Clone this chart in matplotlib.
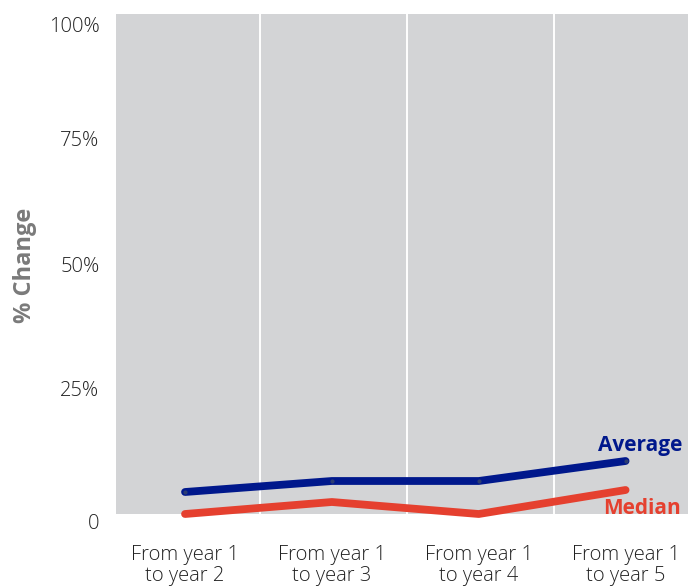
import matplotlib
matplotlib.use("Agg")
import matplotlib.pyplot as plt
import matplotlib.transforms as mtransforms

categories = ["From year 1\nto year 2", "From year 1\nto year 3",
              "From year 1\nto year 4", "From year 1\nto year 5"]
average = [4.4, 6.6, 6.6, 10.6]
median = [0.0, 2.4, 0.0, 4.8]
ytick_vals = [0, 25, 50, 75, 100]
ytick_labels = ["0", "25%", "50%", "75%", "100%"]

plt.rcParams['font.family'] = ['Open Sans', 'DejaVu Sans']

W, H = 688, 587
fig = plt.figure(figsize=(W / 100, H / 100), dpi=100)
left, right, top, bottom = 116, 699, 14, 514
ax = fig.add_axes([left / W, (H - bottom) / H, (right - left) / W, (bottom - top) / H])
ax.set_facecolor('#d3d4d6')
for s in ax.spines.values():
    s.set_visible(False)

x = list(range(len(categories)))
ax.set_xlim(-0.47, 3.5)
ax.set_ylim(0, 100)

ax.set_yticks(ytick_vals)
ax.set_yticks([25, 50, 75], minor=True)
ax.set_yticklabels(ytick_labels)
ax.set_xticks(x)
ax.set_xticklabels(categories)
ax.set_xticks([0.51, 1.51, 2.51], minor=True)
ax.grid(False)
ax.grid(True, which='minor', color='white', linewidth=1.4)
ax.tick_params(which='both', length=0)
ax.tick_params(axis='y', pad=12, labelsize=14.5, labelcolor='#222222')
ax.tick_params(axis='x', pad=22, labelsize=14.5, labelcolor='#222222')
for lab in ax.get_xticklabels():
    lab.set_fontweight('light')
    lab.set_linespacing(1.1)
ylabs = ax.get_yticklabels()
for lab in ylabs:
    lab.set_fontweight('light')
ylabs[0].set_va('top')
ylabs[-1].set_va('top')
ylabs[-1].set_transform(ylabs[-1].get_transform() +
                        mtransforms.ScaledTranslation(0, -3 / 100, fig.dpi_scale_trans))

navy = '#00188c'
red = '#e5402f'
ax.plot(x, average, color=navy, linewidth=5.6, solid_capstyle='round',
        solid_joinstyle='round', marker='o', markersize=3,
        markerfacecolor='#2c3d72', markeredgewidth=0, zorder=3, clip_on=False)
ax.plot(x, median, color=red, linewidth=5.6, solid_capstyle='round',
        solid_joinstyle='round', zorder=3, clip_on=False)

ax.annotate("Average", xy=(x[-1], average[-1]), xytext=(57, 16),
            textcoords='offset pixels', ha='right', va='center',
            fontsize=15, fontweight='bold', color=navy)
ax.annotate("Median", xy=(x[-1], median[-1]), xytext=(55, -19),
            textcoords='offset pixels', ha='right', va='center',
            fontsize=15, fontweight='bold', color=red, annotation_clip=False)

fig.text(25 / W, 1 - 265 / H, "% Change", rotation=90, ha='center', va='center',
         fontsize=17, fontweight='bold', color='#7a7a7a')

fig.savefig("out.png", dpi=100)
